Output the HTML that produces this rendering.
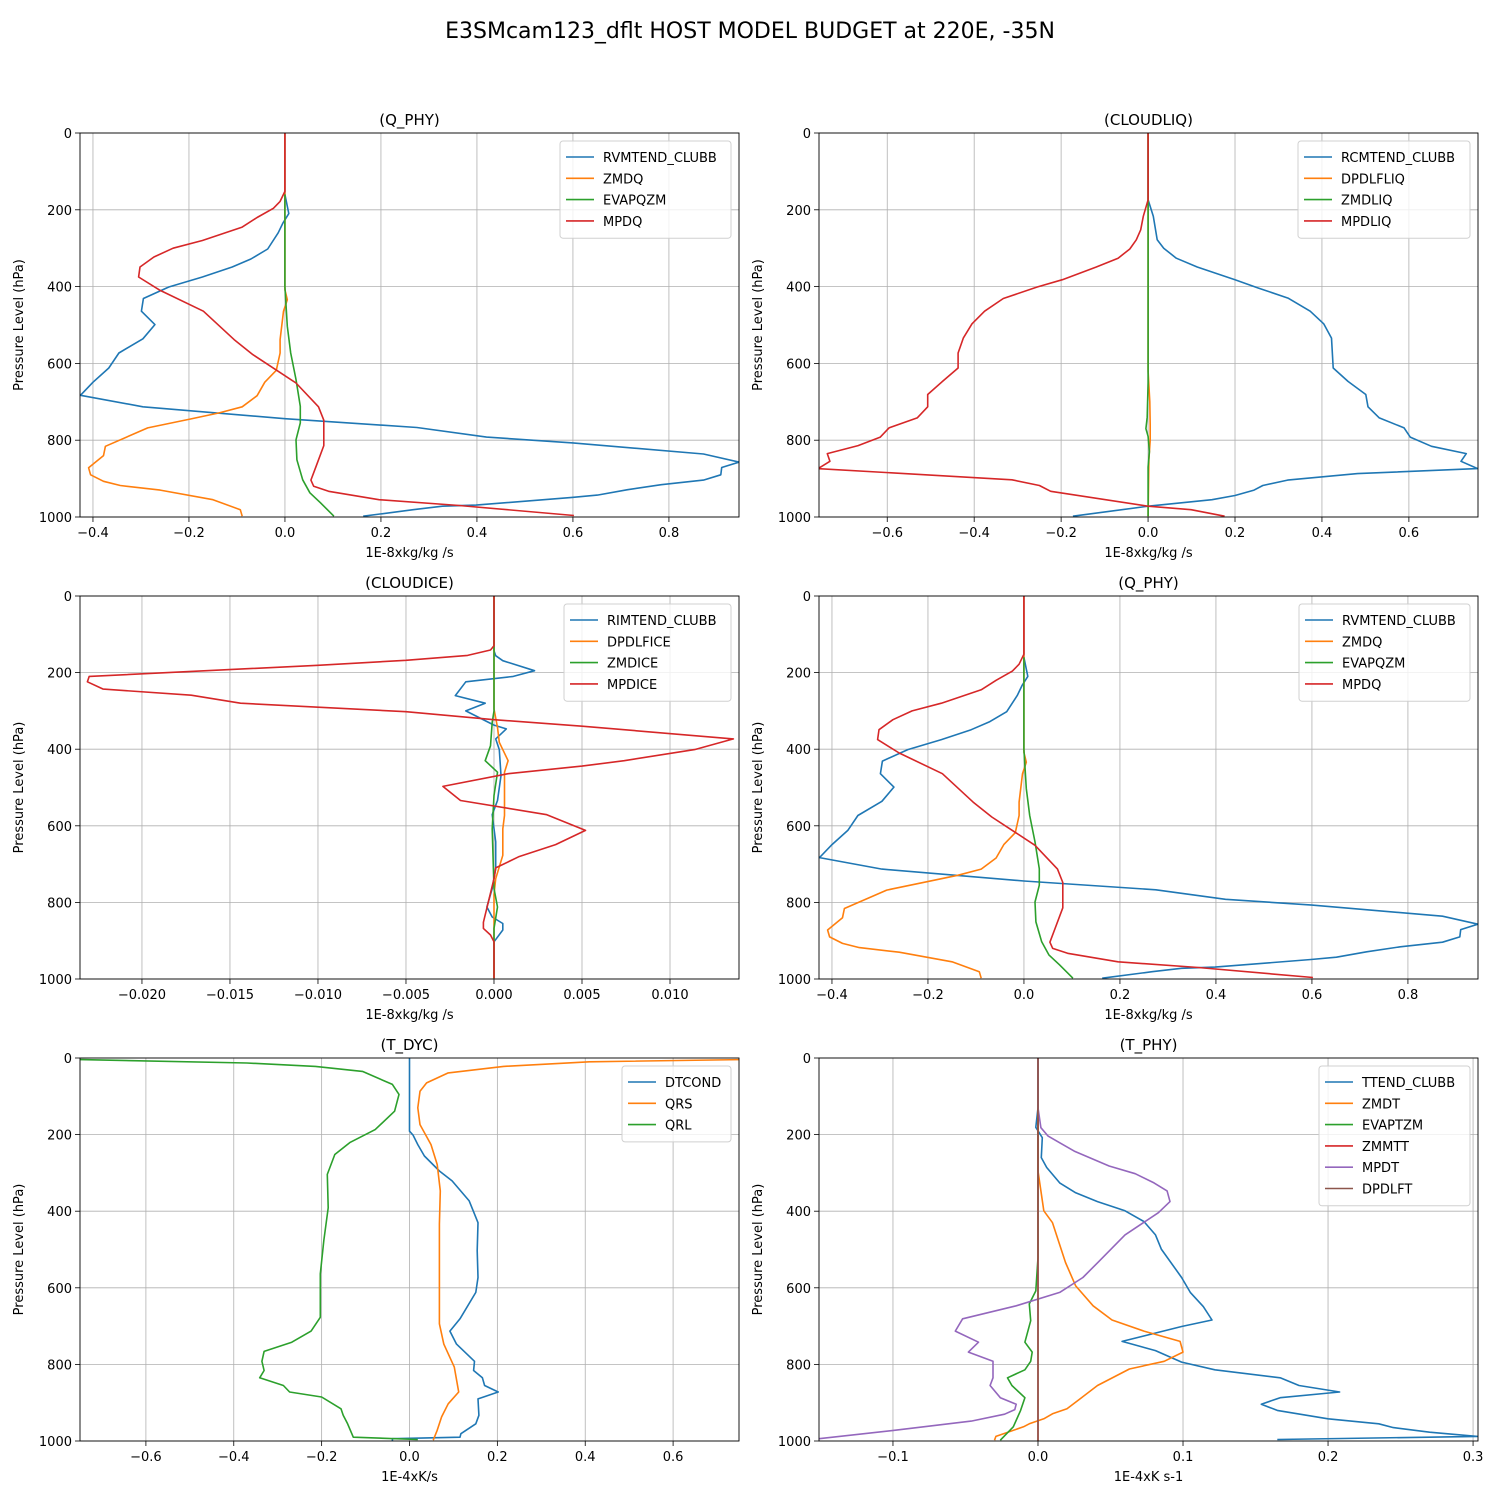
<!DOCTYPE html>
<html><head><meta charset="utf-8"><style>
body{margin:0;background:#fff;}
svg{display:block;font-family:"DejaVu Sans","Liberation Sans",sans-serif;}
</style></head><body>
<svg id="fig" width="1500" height="1500" viewBox="0 0 1500 1500" xmlns="http://www.w3.org/2000/svg">
<rect width="1500" height="1500" fill="#fff"/>
<text x="750" y="38" text-anchor="middle" font-size="22">E3SMcam123_dflt HOST MODEL BUDGET at 220E, -35N</text>
</svg>
<script>
// ---- Panel 1 / 4 : Q_PHY ----
const qP_rvm=[0,160,210,234,260,302,328,349,375,401,431,464,499,536,573,612,649,683,713,744,767,792,807,836,857,871,890,904,916,929,943,949,969,972,981,998];
const qV_rvm=[0,0,0.008,-0.004,-0.014,-0.036,-0.071,-0.11,-0.172,-0.242,-0.295,-0.299,-0.271,-0.296,-0.346,-0.367,-0.4,-0.426,-0.296,0,0.275,0.42,0.6,0.872,0.946,0.91,0.908,0.872,0.784,0.714,0.651,0.598,0.398,0.328,0.267,0.163];
const qP_zm=[0,408,434,464,538,573,618,649,684,713,729,745,768,816,840,872,890,907,918,930,955,981,998];
const qV_zm=[0,0,0.005,-0.003,-0.01,-0.01,-0.018,-0.042,-0.058,-0.089,-0.137,-0.198,-0.286,-0.374,-0.378,-0.409,-0.405,-0.378,-0.343,-0.26,-0.15,-0.093,-0.089];
const qP_ev=[160,400,503,573,642,712,755,799,851,903,937,963,998];
const qV_ev=[0,0,0.005,0.012,0.023,0.032,0.032,0.023,0.025,0.037,0.052,0.074,0.102];
const qP_mp=[0,152,178,196,220,245,280,300,323,349,375,410,464,538,577,651,713,748,814,868,904,920,933,955,970,996];
const qV_mp=[0,0,-0.01,-0.024,-0.058,-0.089,-0.172,-0.233,-0.273,-0.302,-0.305,-0.26,-0.17,-0.106,-0.067,0.023,0.07,0.081,0.081,0.065,0.054,0.06,0.091,0.196,0.363,0.602];
// ---- Panel 2 : CLOUDLIQ ----
const lP_rcm=[0,174,217,278,300,326,349,382,404,430,464,497,534,612,647,681,713,742,768,792,816,835,855,874,887,904,918,930,944,955,972,998];
const lV_rcm=[0,0,0.012,0.021,0.036,0.065,0.113,0.2,0.254,0.322,0.373,0.404,0.422,0.426,0.46,0.501,0.506,0.532,0.589,0.603,0.652,0.732,0.72,0.758,0.482,0.321,0.264,0.244,0.2,0.147,0,-0.173];
const lP_dp=[0,620,700,760,800,850,998];
const lV_dp=[0,0,0.004,0.005,0.005,0.002,0];
const lP_zm=[0,650,740,770,790,830,870,998];
const lV_zm=[0,0,-0.002,-0.005,0,0.003,0,0];
const lP_mp=[0,174,217,252,278,302,326,349,382,401,431,464,497,534,573,612,647,681,713,742,768,792,814,835,855,874,903,918,933,972,981,998];
const lV_mp=[0,0,-0.011,-0.017,-0.027,-0.042,-0.069,-0.119,-0.197,-0.255,-0.333,-0.376,-0.405,-0.425,-0.437,-0.437,-0.473,-0.507,-0.507,-0.531,-0.596,-0.616,-0.667,-0.738,-0.732,-0.759,-0.313,-0.25,-0.224,0,0.099,0.176];
// ---- Panel 3 : CLOUDICE ----
const iP_rim=[0,143,156,169,195,210,224,260,280,300,337,347,373,401,469,534,571,642,712,764,812,838,855,872,903,998];
const iV_rim=[0,0,0.0001,0.0005,0.0023,0.0011,-0.0016,-0.0022,-0.0005,-0.0016,0,0.0007,0.0001,0.0003,0.0004,0.0002,-0.0001,0.0001,0.0001,-0.0001,-0.0004,-0.0001,0.0005,0.0005,0,0];
const iP_dp=[0,295,343,382,430,460,521,573,608,677,738,780,998];
const iV_dp=[0,0,0.0002,0.0003,0.0008,0.0006,0.0006,0.0006,0.0005,0.0005,0.0001,0,0];
const iP_zm=[0,300,330,391,430,460,521,608,764,812,868,998];
const iV_zm=[0,0,-0.0001,-0.0002,-0.0005,0.0002,0,-0.0001,0,0.0002,0,0];
const iP_mp=[0,130,141,155,168,181,210,224,243,259,280,302,323,340,373,401,430,444,464,497,534,571,612,649,681,710,738,852,868,885,903,998];
const iV_mp=[0,0,-0.0002,-0.0015,-0.005,-0.01,-0.023,-0.0231,-0.0222,-0.0172,-0.0144,-0.005,0,0.005,0.0136,0.0114,0.0074,0.005,0.0008,-0.0029,-0.0019,0.003,0.0052,0.0035,0.0014,0.0001,0,-0.0006,-0.0006,-0.0002,0,0];
// ---- Panel 5 : T_DYC ----
const dP_dtc=[0,191,201,226,256,295,321,373,430,503,573,612,681,713,747,792,816,835,855,872,890,933,955,981,990,994,1000];
const dV_dtc=[0,0,0.008,0.019,0.034,0.068,0.097,0.136,0.156,0.154,0.156,0.151,0.115,0.092,0.107,0.148,0.146,0.166,0.171,0.202,0.156,0.158,0.151,0.117,0.115,-0.039,-0.039];
const dP_qrs=[0,4,10,22,39,65,87,130,174,226,278,347,434,608,694,747,807,872,903,937,972,998];
const dV_qrs=[1.2,0.77,0.409,0.214,0.088,0.039,0.024,0.019,0.024,0.049,0.063,0.07,0.068,0.068,0.068,0.078,0.102,0.112,0.088,0.073,0.063,0.054];
const dP_qrl=[0,4,13,22,35,69,95,139,187,221,252,304,391,477,564,677,713,742,766,792,816,835,855,872,885,916,933,955,990,996];
const dV_qrl=[-1.2,-0.76,-0.37,-0.214,-0.107,-0.039,-0.024,-0.034,-0.078,-0.136,-0.17,-0.187,-0.185,-0.195,-0.203,-0.203,-0.224,-0.268,-0.331,-0.336,-0.331,-0.341,-0.287,-0.273,-0.2,-0.156,-0.151,-0.141,-0.128,0.019];
// ---- Panel 6 : T_PHY ----
const tP_tt=[130,181,208,260,286,326,352,375,399,427,462,499,573,612,649,684,701,740,764,794,814,835,855,872,887,904,920,942,955,965,977,988,996];
const tV_tt=[0,-0.0015,0.003,0.0023,0.006,0.015,0.026,0.041,0.06,0.073,0.081,0.085,0.099,0.105,0.114,0.12,0.099,0.058,0.081,0.099,0.122,0.167,0.18,0.208,0.167,0.154,0.165,0.2,0.235,0.245,0.27,0.303,0.165];
const tP_zm=[0,295,399,430,534,595,647,684,713,740,768,792,812,855,887,916,929,942,955,963,988,998];
const tV_zm=[0,0,0.004,0.01,0.019,0.026,0.038,0.051,0.073,0.098,0.1,0.087,0.063,0.041,0.03,0.02,0.01,0.004,-0.006,-0.01,-0.029,-0.03];
const tP_ev=[0,521,608,642,686,742,768,792,814,835,855,887,920,963,998];
const tV_ev=[0,0,-0.0015,-0.006,-0.005,-0.009,-0.004,-0.005,-0.009,-0.021,-0.018,-0.009,-0.012,-0.017,-0.026];
const tP_zt=[0,1000];
const tV_zt=[0,0];
const tP_mp=[0,130,182,204,243,282,302,326,347,375,404,462,531,573,612,647,681,713,742,768,792,835,855,887,904,918,930,948,972,994];
const tV_mp=[0,0,0.002,0.007,0.025,0.049,0.067,0.08,0.089,0.091,0.083,0.06,0.042,0.031,0.015,-0.015,-0.052,-0.057,-0.041,-0.048,-0.031,-0.031,-0.033,-0.026,-0.015,-0.016,-0.023,-0.046,-0.099,-0.151];
const tP_dl=[0,1000];
const tV_dl=[0,0];

const yTicks=[0,200,400,600,800,1000];
const C=['#1f77b4','#ff7f0e','#2ca02c','#d62728','#9467bd','#8c564b'];
const panels=[
 {id:'q-phy-top',x0:80,x1:739,y0:133,y1:517,xmin:-0.427,xmax:0.946,ticks:[-0.4,-0.2,0,0.2,0.4,0.6,0.8],dec:1,title:'(Q_PHY)',xl:'1E-8xkg/kg /s',
  series:[['RVMTEND_CLUBB',qP_rvm,qV_rvm],['ZMDQ',qP_zm,qV_zm],['EVAPQZM',qP_ev,qV_ev],['MPDQ',qP_mp,qV_mp]],legW:171},
 {id:'cloudliq',x0:819,x1:1478,y0:133,y1:517,xmin:-0.757,xmax:0.759,ticks:[-0.6,-0.4,-0.2,0,0.2,0.4,0.6],dec:1,title:'(CLOUDLIQ)',xl:'1E-8xkg/kg /s',
  series:[['RCMTEND_CLUBB',lP_rcm,lV_rcm],['DPDLFLIQ',lP_dp,lV_dp],['ZMDLIQ',lP_zm,lV_zm],['MPDLIQ',lP_mp,lV_mp]],legW:172},
 {id:'cloudice',x0:80,x1:739,y0:596,y1:979,xmin:-0.02352,xmax:0.01392,ticks:[-0.02,-0.015,-0.01,-0.005,0,0.005,0.01],dec:3,title:'(CLOUDICE)',xl:'1E-8xkg/kg /s',
  series:[['RIMTEND_CLUBB',iP_rim,iV_rim],['DPDLFICE',iP_dp,iV_dp],['ZMDICE',iP_zm,iV_zm],['MPDICE',iP_mp,iV_mp]],legW:167},
 {id:'q-phy-mid',x0:819,x1:1478,y0:596,y1:979,xmin:-0.427,xmax:0.946,ticks:[-0.4,-0.2,0,0.2,0.4,0.6,0.8],dec:1,title:'(Q_PHY)',xl:'1E-8xkg/kg /s',
  series:[['RVMTEND_CLUBB',qP_rvm,qV_rvm],['ZMDQ',qP_zm,qV_zm],['EVAPQZM',qP_ev,qV_ev],['MPDQ',qP_mp,qV_mp]],legW:171},
 {id:'t-dyc',x0:80,x1:739,y0:1058,y1:1441,xmin:-0.75,xmax:0.75,ticks:[-0.6,-0.4,-0.2,0,0.2,0.4,0.6],dec:1,title:'(T_DYC)',xl:'1E-4xK/s',
  series:[['DTCOND',dP_dtc,dV_dtc],['QRS',dP_qrs,dV_qrs],['QRL',dP_qrl,dV_qrl]],legW:109},
 {id:'t-phy',x0:819,x1:1478,y0:1058,y1:1441,xmin:-0.151,xmax:0.3034,ticks:[-0.1,0,0.1,0.2,0.3],dec:1,title:'(T_PHY)',xl:'1E-4xK s-1',
  series:[['TTEND_CLUBB',tP_tt,tV_tt],['ZMDT',tP_zm,tV_zm],['EVAPTZM',tP_ev,tV_ev],['ZMMTT',tP_zt,tV_zt],['MPDT',tP_mp,tV_mp],['DPDLFT',tP_dl,tV_dl]],legW:151}
];
const NS='http://www.w3.org/2000/svg';
const fig=document.getElementById('fig');
function mk(tag,attrs,parent,txt){const e=document.createElementNS(NS,tag);for(const k in attrs)e.setAttribute(k,attrs[k]);if(txt!==undefined)e.textContent=txt;(parent||fig).appendChild(e);return e;}
function fmt(v,d){let s=v.toFixed(d);if(Math.abs(v)<1e-12)s=(0).toFixed(d);return s.replace('-','\u2212');}
panels.forEach((P,pi)=>{
 const g=mk('g',{});
 
 
 const sx=v=>P.x0+(v-P.xmin)/(P.xmax-P.xmin)*(P.x1-P.x0);
 const sy=p=>P.y0+p/1000*(P.y1-P.y0);
 const cp=mk('clipPath',{id:'clip'+pi},g);mk('rect',{x:P.x0,y:P.y0,width:P.x1-P.x0,height:P.y1-P.y0},cp);
 P.ticks.forEach(t=>{const x=sx(t);
  const gl=mk('line',{x1:x,x2:x,y1:P.y0,y2:P.y1,stroke:'#b0b0b0','stroke-width':0.8},g);
  
  
  mk('line',{x1:x,x2:x,y1:P.y1,y2:P.y1+5,stroke:'#000','stroke-width':0.8},g);
  const tl=mk('text',{x:x,y:P.y1+20,'text-anchor':'middle','font-size':13},g,fmt(t,P.dec));
  
  
 });
 yTicks.forEach(t=>{const y=sy(t);
  const gl=mk('line',{x1:P.x0,x2:P.x1,y1:y,y2:y,stroke:'#b0b0b0','stroke-width':0.8},g);
  
  
  mk('line',{x1:P.x0-5,x2:P.x0,y1:y,y2:y,stroke:'#000','stroke-width':0.8},g);
  const tl=mk('text',{x:P.x0-8,y:y+5,'text-anchor':'end','font-size':13},g,String(t));
  
  
 });
 const sg=mk('g',{'clip-path':'url(#clip'+pi+')'},g);
 P.series.forEach((s,si)=>{
  const pts=s[1].map((p,i)=>sx(s[2][i]).toFixed(1)+','+sy(p).toFixed(1)).join(' ');
  const pl=mk('polyline',{points:pts,fill:'none',stroke:C[si],'stroke-width':1.6,'stroke-linejoin':'round'},sg);
  
  
 });
 mk('rect',{x:P.x0,y:P.y0,width:P.x1-P.x0,height:P.y1-P.y0,fill:'none',stroke:'#000','stroke-width':0.9},g);
 const tt=mk('text',{x:(P.x0+P.x1)/2,y:P.y0-8,'text-anchor':'middle','font-size':15},g,P.title);
 
 
 const xl=mk('text',{x:(P.x0+P.x1)/2,y:P.y1+40,'text-anchor':'middle','font-size':13},g,P.xl);
 
 
 const yc=(P.y0+P.y1)/2,yx=P.x0-57;
 const yl=mk('text',{x:yx,y:yc,'text-anchor':'middle','font-size':13,transform:'rotate(-90 '+yx+' '+yc+')'},g,'Pressure Level (hPa)');
 
 
 const n=P.series.length,lx=P.x1-8-P.legW,ly=P.y0+8;
 const lg=mk('g',{},g);
 
 
 mk('rect',{x:lx,y:ly,width:P.legW,height:12+n*21.3,rx:3,fill:'#fff','fill-opacity':0.8,stroke:'#d0d0d0','stroke-width':1},lg);
 P.series.forEach((s,si)=>{const y=ly+16+si*21.3;
  const e=mk('g',{},lg);
  
  
  mk('line',{x1:lx+6,x2:lx+34,y1:y,y2:y,stroke:C[si],'stroke-width':1.6},e);
  mk('text',{x:lx+43,y:y+5,'font-size':13},e,s[0]);
 });
});
</script>
</body></html>
